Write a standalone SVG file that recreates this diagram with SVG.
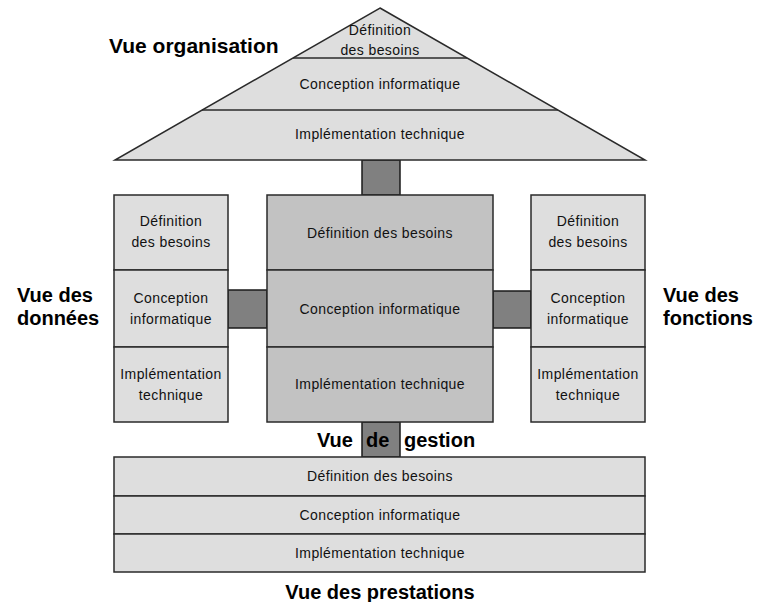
<svg xmlns="http://www.w3.org/2000/svg" width="760" height="602" viewBox="0 0 760 602">
<style>
.lt{fill:#dedede;stroke:#2a2a2a;stroke-width:1.5}
.md{fill:#c2c2c2;stroke:#2a2a2a;stroke-width:1.5}
.cn{fill:#808080;stroke:#1a1a1a;stroke-width:1.5}
.ln{stroke:#2a2a2a;stroke-width:1.5;fill:none}
.t{font-family:"Liberation Sans",Arial,sans-serif;font-size:14px;fill:#111;text-anchor:middle;letter-spacing:0.4px;dominant-baseline:central}
.b{font-family:"Liberation Sans",Arial,sans-serif;font-size:20px;font-weight:bold;fill:#000}
</style>
<rect width="760" height="602" fill="#fff"/>
<g id="connectors">
<rect class="cn" x="362" y="160" width="38" height="35"/>
<rect class="cn" x="228" y="290" width="39" height="38"/>
<rect class="cn" x="493" y="291" width="38" height="37"/>
<rect class="cn" x="362" y="422" width="38" height="35"/>
</g>
<g id="vue-organisation">
<polygon class="lt" points="380,8 645,160 115,160"/>
<line class="ln" x1="293" y1="58" x2="467" y2="58"/>
<line class="ln" x1="202" y1="110" x2="558" y2="110"/>
<text class="t" x="380" y="30">Définition</text>
<text class="t" x="380" y="50">des besoins</text>
<text class="t" x="380" y="84">Conception informatique</text>
<text class="t" x="380" y="134">Implémentation technique</text>
<text class="b" x="109" y="53" style="font-size:21px">Vue organisation</text>
</g>
<g id="vue-donnees">
<rect class="lt" x="114" y="195" width="114" height="75"/>
<rect class="lt" x="114" y="270" width="114" height="77"/>
<rect class="lt" x="114" y="347" width="114" height="75"/>
<text class="t" x="171" y="221">Définition</text>
<text class="t" x="171" y="242">des besoins</text>
<text class="t" x="171" y="298">Conception</text>
<text class="t" x="171" y="319">informatique</text>
<text class="t" x="171" y="374">Implémentation</text>
<text class="t" x="171" y="395">technique</text>
<text class="b" x="17" y="302">Vue des</text>
<text class="b" x="17" y="325">données</text>
</g>
<g id="vue-gestion">
<rect class="md" x="267" y="195" width="226" height="75"/>
<rect class="md" x="267" y="270" width="226" height="77"/>
<rect class="md" x="267" y="347" width="226" height="75"/>
<text class="t" x="380" y="233">Définition des besoins</text>
<text class="t" x="380" y="309">Conception informatique</text>
<text class="t" x="380" y="384">Implémentation technique</text>
<text class="b" x="317" y="447">Vue</text>
<text class="b" x="366" y="447">de</text>
<text class="b" x="404" y="447">gestion</text>
</g>
<g id="vue-fonctions">
<rect class="lt" x="531" y="195" width="114" height="75"/>
<rect class="lt" x="531" y="270" width="114" height="77"/>
<rect class="lt" x="531" y="347" width="114" height="75"/>
<text class="t" x="588" y="221">Définition</text>
<text class="t" x="588" y="242">des besoins</text>
<text class="t" x="588" y="298">Conception</text>
<text class="t" x="588" y="319">informatique</text>
<text class="t" x="588" y="374">Implémentation</text>
<text class="t" x="588" y="395">technique</text>
<text class="b" x="663" y="302">Vue des</text>
<text class="b" x="663" y="325">fonctions</text>
</g>
<g id="vue-prestations">
<rect class="lt" x="114" y="457" width="531" height="39"/>
<rect class="lt" x="114" y="496" width="531" height="38"/>
<rect class="lt" x="114" y="534" width="531" height="38"/>
<text class="t" x="380" y="476">Définition des besoins</text>
<text class="t" x="380" y="515">Conception informatique</text>
<text class="t" x="380" y="553">Implémentation technique</text>
<text class="b" x="380" y="599" text-anchor="middle">Vue des prestations</text>
</g>
</svg>
